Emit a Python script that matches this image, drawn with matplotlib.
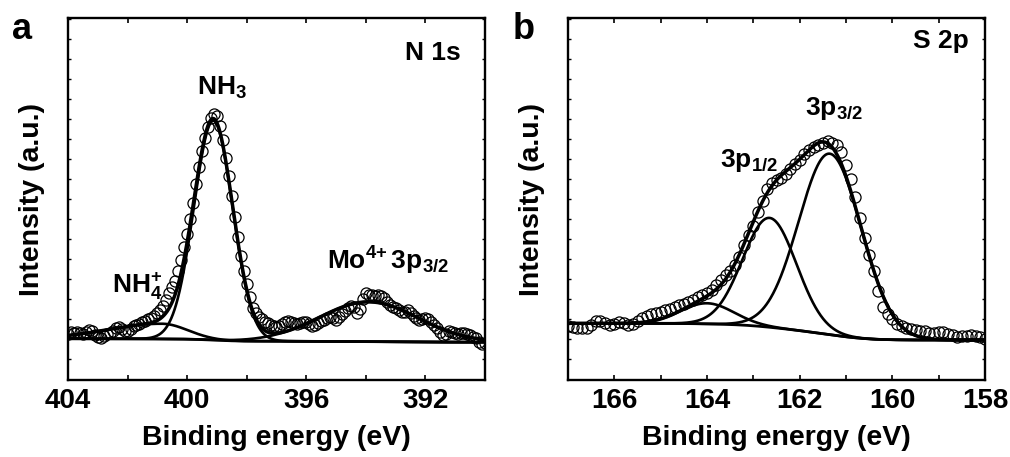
import numpy as np
import matplotlib
matplotlib.use("Agg")
import matplotlib.pyplot as plt
from matplotlib.ticker import MultipleLocator, NullFormatter

plt.rcParams['font.family'] = ['Liberation Sans', 'DejaVu Sans']
plt.rcParams['font.weight'] = 'bold'
plt.rcParams['mathtext.fontset'] = 'custom'
plt.rcParams['mathtext.rm'] = 'Liberation Sans:bold'
plt.rcParams['mathtext.it'] = 'Liberation Sans:bold'
plt.rcParams['mathtext.bf'] = 'Liberation Sans:bold'

# ---- N 1s scan (binding energy, eV) and measured intensity (a.u.)
n1s_energy = np.linspace(404.0, 390.0, 141)
n1s_counts = [
    12.8, 13.3, 13.0, 13.3, 13.1, 12.6, 13.2, 13.9, 13.6, 12.5,
    11.8, 11.6, 12.2, 12.8, 13.0, 13.6, 14.4, 14.7, 14.2, 13.6,
    13.4, 14.0, 14.8, 15.2, 15.6, 16.1, 16.4, 16.8, 17.1, 17.8,
    18.5, 19.3, 20.5, 22.0, 24.1, 25.6, 27.3, 30.0, 33.2, 36.8,
    40.4, 44.6, 49.0, 54.2, 58.9, 63.2, 66.8, 69.8, 72.4, 73.6,
    72.9, 70.3, 66.4, 61.4, 56.3, 50.8, 45.0, 39.6, 34.3, 30.0,
    26.4, 22.8, 19.8, 18.4, 17.5, 16.8, 16.1, 15.7, 15.2, 14.8,
    14.6, 14.8, 15.5, 16.1, 16.2, 15.9, 15.7, 15.6, 15.8, 16.0,
    16.1, 15.6, 14.9, 15.2, 15.8, 16.3, 16.7, 17.1, 17.4, 17.0,
    16.6, 17.4, 18.2, 19.0, 19.8, 20.4, 20.2, 18.6, 19.5, 22.3,
    23.9, 23.6, 23.4, 23.3, 23.6, 23.3, 22.6, 21.6, 20.8, 20.2,
    19.8, 19.4, 18.9, 18.8, 19.2, 18.6, 17.6, 17.0, 16.6, 16.8,
    17.1, 16.8, 16.1, 15.2, 14.3, 13.2, 12.5, 12.8, 13.4, 13.3,
    12.9, 12.8, 12.9, 12.9, 12.6, 12.3, 11.9, 11.5, 10.6, 10.0,
    10.2,
]
# fitted components: NH4+, NH3, Mo4+ 3p3/2
n1s_center = [400.85, 399.12, 393.9]
n1s_height = [4.2, 60.6, 11.0]
n1s_sigma_hi = [1.8, 0.65, 1.65]
n1s_sigma_lo = [0.85, 0.65, 1.65]
n1s_background = (11.4, 10.45)

# ---- S 2p scan
s2p_energy = np.linspace(167.0, 158.0, 91)
s2p_counts = [
    14.8, 14.6, 14.5, 14.3, 14.5, 15.1, 16.2, 16.4, 15.8, 15.3,
    15.5, 16.0, 15.7, 15.3, 15.6, 16.4, 17.1, 17.6, 18.1, 18.6,
    18.9, 19.3, 19.7, 20.2, 20.7, 21.1, 21.6, 22.1, 22.8, 23.5,
    24.0, 24.9, 26.2, 27.6, 28.9, 30.2, 31.9, 34.1, 37.2, 40.1,
    42.6, 46.3, 49.5, 52.8, 54.4, 55.2, 55.9, 57.0, 58.3, 59.6,
    60.9, 62.3, 63.4, 64.4, 65.0, 65.4, 65.9, 65.6, 64.8, 63.1,
    59.4, 55.6, 50.6, 44.8, 39.1, 34.6, 30.1, 24.6, 20.1, 18.3,
    16.8, 15.6, 14.9, 14.3, 14.0, 13.8, 13.6, 13.4, 13.1, 12.9,
    13.3, 13.2, 12.6, 12.3, 12.0, 12.1, 12.2, 12.3, 12.1, 11.8,
    11.2,
]
# fitted components: shoulder, 3p1/2, 3p3/2
s2p_center = [164.0, 162.65, 161.35]
s2p_height = [5.7, 30.2, 50.0]
s2p_sigma_hi = [0.57, 0.58, 0.67]
s2p_sigma_lo = [0.57, 0.58, 0.68]
s2p_background = (15.65, 11.05)


def split_gauss(e, center, height, s_hi, s_lo):
    s = np.where(e >= center, s_hi, s_lo)
    return height * np.exp(-(e - center) ** 2 / (2 * s ** 2))


def draw_panel(ax, energy, counts, centers, heights, s_hi, s_lo, bg):
    e = np.linspace(energy[0], energy[-1], 800)
    comps = [split_gauss(e, c, h, a, b)
             for c, h, a, b in zip(centers, heights, s_hi, s_lo)]
    total = np.sum(comps, axis=0)
    # Shirley-like step: area lying on the low binding energy side
    cum = np.cumsum(total[::-1])[::-1]
    base = bg[1] + (bg[0] - bg[1]) * cum / cum[0]

    ax.plot(energy, counts, 'o', ms=8, mfc='none', mec='black', mew=0.9)
    ax.plot(e, base, color='black', lw=2.0)
    for c in comps:
        ax.plot(e, base + c, color='black', lw=1.9)
    ax.plot(e, base + total, color='black', lw=2.5)

    ax.set_xlim(energy[0], energy[-1])
    ax.set_ylim(0, 100)
    ax.set_yticks(np.arange(5.7, 100, 5.525))
    ax.yaxis.set_major_formatter(NullFormatter())
    ax.tick_params(axis='x', which='both', direction='in', top=True,
                   length=3.5, width=1.2, labelsize=20, pad=6)
    ax.tick_params(axis='y', direction='in', right=True, length=2.5, width=1.0)
    for sp in ax.spines.values():
        sp.set_linewidth(1.7)
    ax.set_xlabel('Binding energy (eV)', fontsize=20.5, fontweight='bold')
    ax.set_ylabel('Intensity (a.u.)', fontsize=20.5, fontweight='bold')
    ax.xaxis.set_label_coords(0.5, -0.125)
    ax.yaxis.set_label_coords(-0.055, 0.5)


fig = plt.figure(figsize=(10.1, 4.57), dpi=100)
ax1 = fig.add_axes([0.0673, 0.1685, 0.4129, 0.7921])
ax2 = fig.add_axes([0.5624, 0.1685, 0.4129, 0.7921])

draw_panel(ax1, n1s_energy, n1s_counts, n1s_center, n1s_height,
           n1s_sigma_hi, n1s_sigma_lo, n1s_background)
ax1.xaxis.set_major_locator(MultipleLocator(4))
ax1.xaxis.set_minor_locator(MultipleLocator(2))

draw_panel(ax2, s2p_energy, s2p_counts, s2p_center, s2p_height,
           s2p_sigma_hi, s2p_sigma_lo, s2p_background)
ax2.xaxis.set_major_locator(MultipleLocator(2))
ax2.xaxis.set_minor_locator(MultipleLocator(1))

fs = 19
ax1.text(392.69, 88.4, 'N 1s', fontsize=fs)
ax1.text(399.67, 78.7, 'NH$_3$', fontsize=fs)
ax1.text(402.52, 24.0, 'NH$_4^{+}$', fontsize=fs)
ax1.text(395.31, 30.4, r'Mo$^{4{+}}\,$3p$_{3/2}$', fontsize=fs)

ax2.text(159.56, 91.7, 'S 2p', fontsize=fs)
ax2.text(161.89, 73.2, '3p$_{3/2}$', fontsize=fs)
ax2.text(163.73, 58.8, '3p$_{1/2}$', fontsize=fs)

fig.text(0.0119, 0.9147, 'a', fontsize=26, fontweight='bold')
fig.text(0.508, 0.9147, 'b', fontsize=26, fontweight='bold')

fig.savefig('out.png', dpi=100)
